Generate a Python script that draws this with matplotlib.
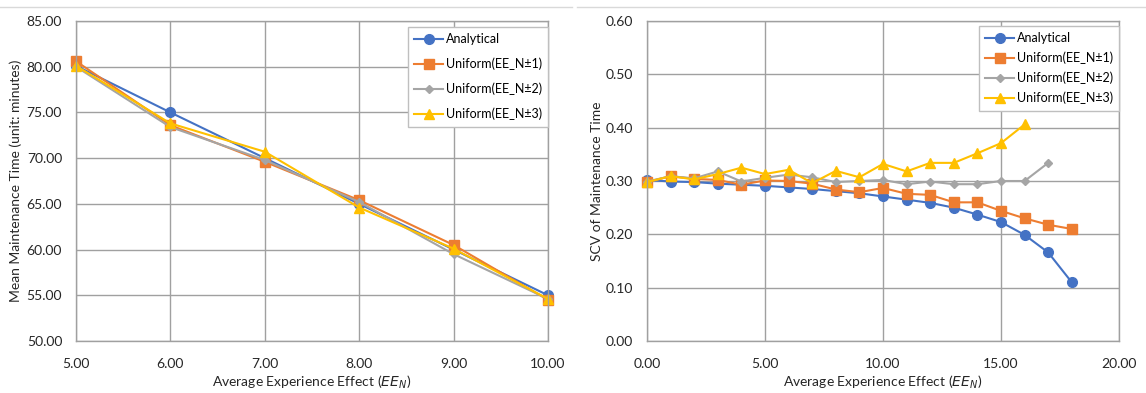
import matplotlib
matplotlib.use("Agg")
import matplotlib.pyplot as plt
from matplotlib.lines import Line2D

plt.rcParams['font.family'] = ['Lato', 'DejaVu Sans']

# Left panel data
ee_left = [5, 6, 7, 8, 9, 10]
mean_analytical = [80.1, 75.0, 70.0, 65.0, 60.0, 55.0]
mean_u1 = [80.6, 73.6, 69.6, 65.4, 60.5, 54.5]
mean_u2 = [80.0, 73.4, 69.8, 65.2, 59.5, 54.6]
mean_u3 = [80.1, 73.8, 70.7, 64.6, 60.1, 54.6]

# Right panel data
ee_an = list(range(0, 19))
scv_analytical = [0.302, 0.299, 0.298, 0.295, 0.293, 0.291, 0.288, 0.285, 0.281, 0.277,
                  0.271, 0.265, 0.259, 0.250, 0.237, 0.223, 0.199, 0.166, 0.110]
ee_u1 = list(range(0, 19))
scv_u1 = [0.298, 0.309, 0.304, 0.302, 0.293, 0.301, 0.300, 0.295, 0.284, 0.279,
          0.287, 0.276, 0.274, 0.260, 0.260, 0.244, 0.230, 0.218, 0.210]
ee_u2 = list(range(0, 18))
scv_u2 = [0.299, 0.309, 0.305, 0.318, 0.299, 0.306, 0.312, 0.307, 0.298, 0.300,
          0.302, 0.294, 0.299, 0.294, 0.294, 0.300, 0.300, 0.334]
ee_u3 = list(range(0, 17))
scv_u3 = [0.298, 0.309, 0.303, 0.313, 0.325, 0.313, 0.321, 0.296, 0.319, 0.307,
          0.332, 0.318, 0.334, 0.334, 0.352, 0.371, 0.406]

labels = ['Analytical', 'Uniform(EE_N±1)', 'Uniform(EE_N±2)', 'Uniform(EE_N±3)']
left_yticks = [50, 55, 60, 65, 70, 75, 80, 85]
left_xticks = [5, 6, 7, 8, 9, 10]
right_yticks = [0.0, 0.1, 0.2, 0.3, 0.4, 0.5, 0.6]
right_xticks = [0, 5, 10, 15, 20]

colors = ['#4472C4', '#ED7D31', '#A5A5A5', '#FFC000']
markers = ['o', 's', 'D', '^']
msizes = [7, 7, 4.5, 7.5]

W, H = 1146, 393
fig = plt.figure(figsize=(W / 100, H / 100), dpi=100)

def ax_rect(x0, x1, y0, y1):
    return [x0 / W, 1 - y1 / H, (x1 - x0) / W, (y1 - y0) / H]

axL = fig.add_axes(ax_rect(76, 548, 21, 341))
axR = fig.add_axes(ax_rect(647, 1119, 21, 341))

gridc = '#A0A0A0'
txtc = '#262626'

def style(ax):
    ax.grid(True, color=gridc, lw=1)
    ax.set_axisbelow(True)
    for s in ax.spines.values():
        s.set_color(gridc)
        s.set_linewidth(1)
    ax.tick_params(length=0, labelsize=10, colors=txtc)
    ax.tick_params(axis='x', pad=12)
    ax.tick_params(axis='y', pad=10)

def legend(ax, top_px, spacing):
    leg = ax.legend(loc='upper right', bbox_to_anchor=(1.0, 1 - top_px / 320), fontsize=9,
                    frameon=True, fancybox=False, edgecolor='#BFBFBF', labelspacing=spacing,
                    handlelength=2.3, handletextpad=0.2, borderpad=0.5, borderaxespad=0,
                    framealpha=1)
    leg.get_frame().set_linewidth(1)
    return leg

seriesL = [mean_analytical, mean_u1, mean_u2, mean_u3]
for ys, c, m, ms, lab in zip(seriesL, colors, markers, msizes, labels):
    axL.plot(ee_left, ys, color=c, marker=m, ms=ms, lw=1.5, label=lab, clip_on=False)
axL.set_xlim(5, 10)
axL.set_ylim(50, 85)
axL.set_xticks(left_xticks)
axL.set_yticks(left_yticks)
axL.set_xticklabels([f'{v:.2f}' for v in left_xticks])
axL.set_yticklabels([f'{v:.2f}' for v in left_yticks])
style(axL)
axL.set_xlabel('Average Experience Effect ($EE_N$)', fontsize=10, color=txtc, labelpad=3)
axL.set_ylabel('Mean Maintenance Time (unit: minutes)', fontsize=10, color=txtc, labelpad=3)
legend(axL, 6, 1.0)

xsR = [ee_an, ee_u1, ee_u2, ee_u3]
seriesR = [scv_analytical, scv_u1, scv_u2, scv_u3]
for xs, ys, c, m, ms, lab in zip(xsR, seriesR, colors, markers, msizes, labels):
    axR.plot(xs, ys, color=c, marker=m, ms=ms, lw=1.5, label=lab, clip_on=False)
axR.set_xlim(0, 20)
axR.set_ylim(0, 0.6)
axR.set_xticks(right_xticks)
axR.set_yticks(right_yticks)
axR.set_xticklabels([f'{v:.2f}' for v in right_xticks])
axR.set_yticklabels([f'{v:.2f}' for v in right_yticks])
style(axR)
axR.set_xlabel('Average Experience Effect ($EE_N$)', fontsize=10, color=txtc, labelpad=3)
axR.set_ylabel('SCV of Maintenance Time', fontsize=10, color=txtc, labelpad=2)
legend(axR, 5, 0.6)

fig.add_artist(Line2D([0, 572 / W], [1 - 7 / H] * 2, color='#D9D9D9', lw=1))
fig.add_artist(Line2D([577 / W, 1], [1 - 7 / H] * 2, color='#D9D9D9', lw=1))

fig.savefig('out.png', dpi=100, facecolor='white')
